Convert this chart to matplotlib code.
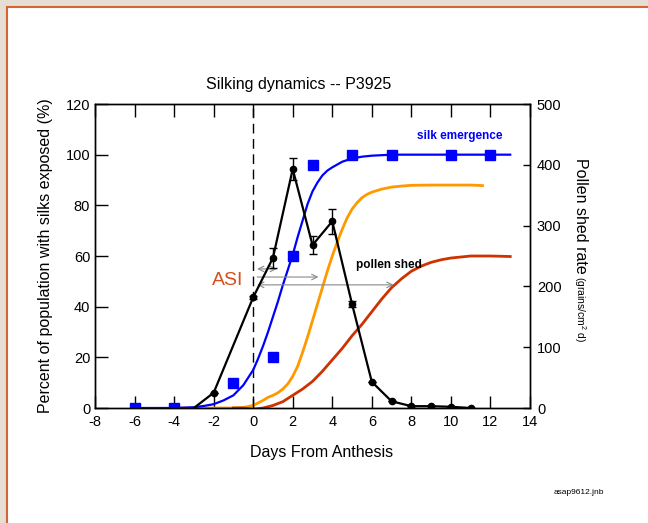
import matplotlib
matplotlib.use("Agg")
import matplotlib.pyplot as plt
from matplotlib.patches import Rectangle

plt.rcParams['font.family'] = ['Liberation Sans', 'DejaVu Sans']
plt.rcParams['mathtext.fontset'] = 'custom'
plt.rcParams['mathtext.rm'] = 'Liberation Sans'
plt.rcParams['mathtext.it'] = 'Liberation Sans'
plt.rcParams['axes.unicode_minus'] = False

# silk emergence observations (% of population, left axis)
silk_days = [-6, -4, -1, 1, 2, 3, 5, 7, 10, 12]
silk_pct = [0, 0, 10, 20, 60, 96, 100, 100, 100, 100]

# fitted silk emergence curve
silk_fit_days = [-6, -4, -3, -2.5, -2, -1.5, -1, -0.5, 0, 0.25, 0.5, 0.75, 1, 1.25,
                 1.5, 1.75, 2, 2.25, 2.5, 2.75, 3, 3.25, 3.5, 3.75, 4, 4.5, 5, 5.5,
                 6, 7, 13]
silk_fit_pct = [0, 0, 0.3, 0.8, 1.5, 3, 5, 9, 15, 19.5, 24.5, 30, 36, 42,
                48.5, 54.5, 60.5, 67.5, 74, 80.5, 85.5, 89, 91.8, 93.7, 95, 97.2, 98.5, 99.2,
                99.6, 100, 100]

# cumulative curves (left axis)
orange_days = [-4, -1, -0.5, 0, 0.25, 0.5, 0.75, 1, 1.25, 1.5, 1.75, 2, 2.25, 2.5,
               2.75, 3, 3.25, 3.5, 3.75, 4, 4.25, 4.5, 4.75, 5, 5.25, 5.5, 5.75,
               6, 6.5, 7, 7.5, 8, 9, 10, 11, 11.6]
orange_pct = [0, 0, 0.2, 1, 2, 3, 4.2, 5, 6, 7.5, 9.5, 12.5, 16.5, 22,
              28, 34.5, 41, 47.5, 54, 60, 65.5, 70.5, 75, 78.5, 81, 83, 84.3,
              85.2, 86.4, 87.2, 87.6, 87.9, 88, 88, 88, 87.8]

red_days = [-1, -0.5, 0, 0.5, 1, 1.5, 2, 2.5, 3, 3.5, 4, 4.5, 5, 5.5, 6, 6.5, 7,
            7.5, 8, 8.5, 9, 9.5, 10, 11, 12, 13]
red_pct = [0, 0, -0.5, 0, 1, 2.5, 5, 7.5, 10.5, 14.5, 19, 23.5, 28.5, 33, 38, 43, 47.5,
           51, 54, 56, 57.5, 58.5, 59.2, 60, 60, 59.8]

# pollen shed rate (grains/cm2 d, right axis)
pollen_days = [-3, -2, 0, 1, 2, 3, 4, 5, 6, 7, 8, 9, 10, 11]
pollen_rate = [0, 25, 182, 247, 393, 268, 307, 171, 43, 11, 3, 3, 2, 0]
pollen_err = [0, 0, 3, 16, 18, 15, 21, 5, 0, 0, 0, 0, 0, 0]

# ASI spans: (start day, end day, height in %, double headed)
asi_spans = [(0.2, 1.2, 54.9, True), (0.2, 3.3, 51.7, False), (0.2, 7.1, 48.6, True)]

W, H = 648, 523
fig = plt.figure(figsize=(W / 100, H / 100), dpi=100)
fig.patch.set_facecolor('#E6DED2')
# white page with an orange rule along its top and left edges
fig.add_artist(Rectangle((7 / W, -0.1), 1.2, 1.1 - 7 / H, transform=fig.transFigure,
                         facecolor='white', edgecolor='#D2643A', lw=1.5, zorder=-10))

ax = fig.add_axes([95 / W, 1 - 408 / H, 435 / W, 304 / H])
ax2 = ax.twinx()

ax.plot(silk_fit_days, silk_fit_pct, color='#0000FF', lw=1.6, zorder=3)
ax.plot(silk_days, silk_pct, 's', color='#0000FF', ms=7.5, zorder=4)
ax.plot(orange_days, orange_pct, color='#FF9900', lw=2.0, zorder=2)
ax.plot(red_days, red_pct, color='#CC3300', lw=2.0, zorder=2)
ax.plot([0, 0], [0, 120], color='black', lw=1.0, dashes=(7, 4))

ax2.errorbar(pollen_days[1:], pollen_rate[1:], yerr=pollen_err[1:], fmt='none',
             ecolor='black', elinewidth=1, capsize=3, capthick=1)
ax2.plot(pollen_days, pollen_rate, color='black', lw=1.6, marker='o', ms=4.5,
         markevery=list(range(1, len(pollen_days))))

for x0, x1, y, both in asi_spans:
    ax.annotate('', xy=(x1, y), xytext=(x0, y),
                arrowprops=dict(arrowstyle='<->' if both else '->', color='#8A8A8A',
                                lw=0.8, shrinkA=0, shrinkB=0))

ax.set_xlim(-8, 14)
ax.set_ylim(0, 120)
ax2.set_ylim(0, 500)
ax.set_xticks(range(-8, 15, 2))
ax.set_yticks(range(0, 121, 20))
ax2.set_yticks(range(0, 501, 100))
ax.tick_params(axis='both', direction='in', length=9, width=1, labelsize=10.5,
               top=True, right=False)
ax.tick_params(axis='x', pad=5)
ax2.tick_params(axis='y', direction='in', length=5, width=1, labelsize=10.5, pad=5)
for a in (ax, ax2):
    for s in a.spines.values():
        s.set_linewidth(1.0)

ax.text(12.6, 107.5, 'silk emergence', color='#0000FF', fontsize=8.5,
        fontweight='bold', ha='right', va='center')
ax.text(5.2, 56.5, 'pollen shed', color='black', fontsize=8.5,
        fontweight='bold', ha='left', va='center')
ax.text(-1.3, 50.5, 'ASI', color='#D4501E', fontsize=14, ha='center', va='center')

fig.text(299 / W, 1 - 85 / H, 'Silking dynamics -- P3925', fontsize=11.5,
         ha='center', va='center')
fig.text(322 / W, 1 - 452 / H, 'Days From Anthesis', fontsize=11.5,
         ha='center', va='center')
fig.text(46 / W, 1 - 256 / H, 'Percent of population with silks exposed (%)',
         fontsize=11.5, rotation=90, ha='center', va='center')
fig.text(580 / W, 1 - 158 / H, 'Pollen shed rate', fontsize=11.5, rotation=270,
         ha='center', va='top')
fig.text(580 / W, 1 - 276 / H, r'(grains/cm$^{2}$ d)', fontsize=7.5, rotation=270,
         ha='center', va='top')
fig.text(604 / W, 1 - 493 / H, 'asap9612.jnb', fontsize=6, ha='right', va='center')

fig.savefig('out.png', dpi=100, facecolor=fig.get_facecolor())
